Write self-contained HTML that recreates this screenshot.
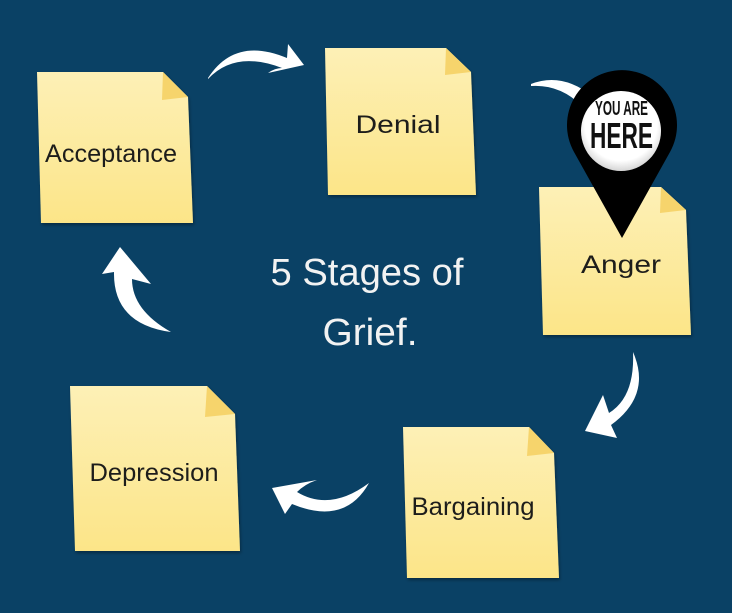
<!DOCTYPE html>
<html>
<head>
<meta charset="utf-8">
<style>
  html,body{margin:0;padding:0;background:#0a4165;}
  svg{display:block;}
</style>
</head>
<body>
<svg width="732" height="613" viewBox="0 0 732 613" xmlns="http://www.w3.org/2000/svg">
  <defs>
    <linearGradient id="note" x1="0" y1="0" x2="0" y2="1">
      <stop offset="0" stop-color="#fdf0b6"/>
      <stop offset="1" stop-color="#fce588"/>
    </linearGradient>
    <radialGradient id="btn" cx="0.5" cy="0.42" r="0.6">
      <stop offset="0.75" stop-color="#ffffff"/>
      <stop offset="1" stop-color="#cfcfcf"/>
    </radialGradient>
    <filter id="sh" x="-10%" y="-10%" width="130%" height="130%">
      <feDropShadow dx="1" dy="2" stdDeviation="1.5" flood-color="#000" flood-opacity="0.35"/>
    </filter>
  </defs>

  <rect width="732" height="613" fill="#0a4165"/>

  <!-- Notes -->
  <g filter="url(#sh)">
    <path d="M37,72 L163,72 L188,97 L193,223 L41,223 Z" fill="url(#note)"/>
    <path d="M325,48 L446,48 L471,72 L476,195 L328,195 Z" fill="url(#note)"/>
    <path d="M539,187 L661,187 L686,210 L691,335 L543,335 Z" fill="url(#note)"/>
    <path d="M70,386 L207,386 L235,414 L240,551 L75,551 Z" fill="url(#note)"/>
    <path d="M403,427 L529,427 L554,453 L559,578 L407,578 Z" fill="url(#note)"/>
  </g>
  <!-- folds -->
  <path d="M163,72 L188,97 L162,100 Z" fill="#f6d46c"/>
  <path d="M446,48 L471,72 L445,75 Z" fill="#f6d46c"/>
  <path d="M661,187 L686,210 L660,213 Z" fill="#f6d46c"/>
  <path d="M207,386 L235,414 L205,417 Z" fill="#f6d46c"/>
  <path d="M529,427 L554,453 L527,456 Z" fill="#f6d46c"/>

  <!-- Note labels -->
  <g font-family="'Liberation Sans', sans-serif" font-size="25" fill="#1d1d1b" text-anchor="middle">
    <text x="111" y="162" textLength="132" lengthAdjust="spacingAndGlyphs">Acceptance</text>
    <text x="398" y="133" textLength="85" lengthAdjust="spacingAndGlyphs">Denial</text>
    <text x="621" y="273" textLength="80" lengthAdjust="spacingAndGlyphs">Anger</text>
    <text x="154" y="481" textLength="129" lengthAdjust="spacingAndGlyphs">Depression</text>
    <text x="473" y="515" textLength="123" lengthAdjust="spacingAndGlyphs">Bargaining</text>
  </g>

  <!-- Title -->
  <g font-family="'Liberation Sans', sans-serif" font-size="38" fill="#f2f2f2" text-anchor="middle">
    <text x="367" y="285" textLength="193" lengthAdjust="spacingAndGlyphs">5 Stages of</text>
    <text x="370" y="345" textLength="95" lengthAdjust="spacingAndGlyphs">Grief.</text>
  </g>

  <!-- Arrows -->
  <g fill="#ffffff">
    <!-- Acceptance -> Denial -->
    <path d="M208,78 Q235,36 287,58 L288,44 L304,65 L268,73 Q275,68 282,68 Q235,50 208,79 Z"/>
    <!-- Denial -> Anger (partially hidden) -->
    <path d="M531,84 Q562,72 592,96 L582,106 Q560,84 531,86 Z"/>
    <!-- Anger -> Bargaining -->
    <path d="M633,352 Q652,395 611,425 L617,438 L585,431 L603,395 L609,413 Q635,397 633,352 Z"/>
    <!-- Bargaining -> Depression -->
    <path d="M272,488 L317,480 Q305,484 297,492 Q330,512 369,483 Q345,526 292,504 L285,514 Z"/>
    <!-- Depression -> Acceptance -->
    <path d="M120,247 L102,274 L114,272 Q113,324 171,332 Q132,310 132,279 L151,284 Z"/>
  </g>

  <!-- Pin -->
  <path d="M574,152 A55,55 0 1 1 670,152 L622,238 Z" fill="#000"/>
  <circle cx="621" cy="131" r="40" fill="url(#btn)"/>
  <g font-family="'Liberation Sans Narrow', 'Liberation Sans', sans-serif" font-weight="bold" fill="#111" text-anchor="middle">
    <text x="621.5" y="115" font-size="20" textLength="53" lengthAdjust="spacingAndGlyphs">YOU ARE</text>
    <text x="621.5" y="148" font-size="36" textLength="63" lengthAdjust="spacingAndGlyphs">HERE</text>
  </g>
</svg>
</body>
</html>
